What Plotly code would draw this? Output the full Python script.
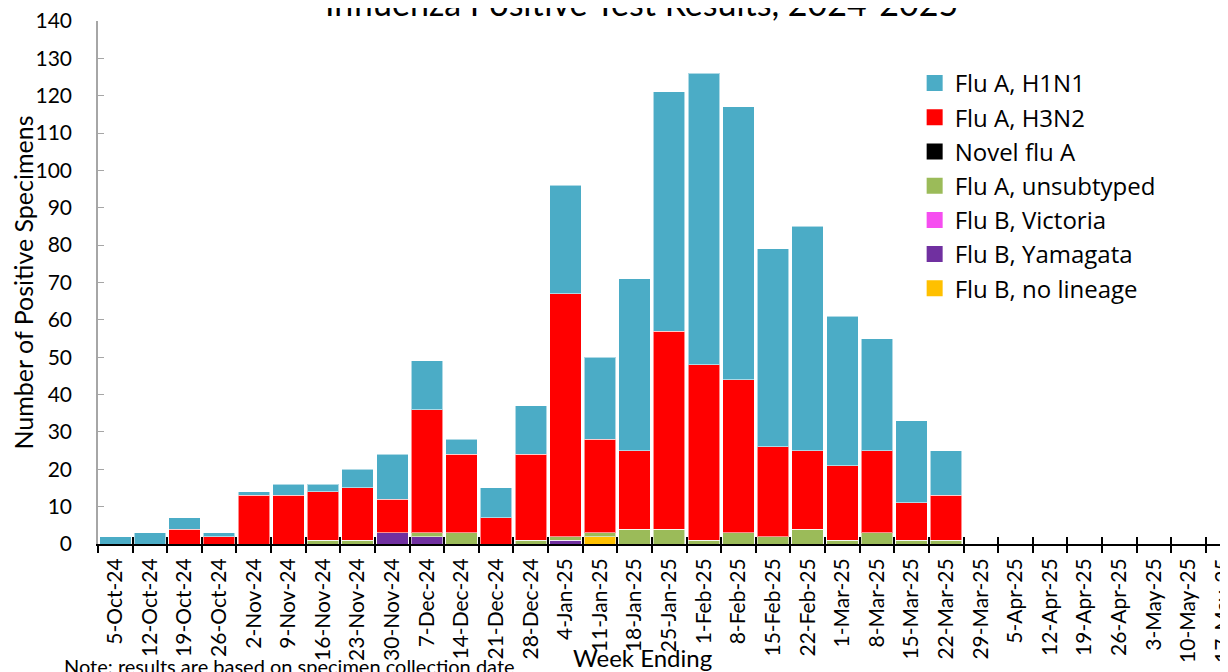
import plotly.graph_objects as go

# week-ending labels (chart is cropped on the right after 17-May-25)
weeks = [
    "5-Oct-24", "12-Oct-24", "19-Oct-24", "26-Oct-24", "2-Nov-24", "9-Nov-24",
    "16-Nov-24", "23-Nov-24", "30-Nov-24", "7-Dec-24", "14-Dec-24", "21-Dec-24",
    "28-Dec-24", "4-Jan-25", "11-Jan-25", "18-Jan-25", "25-Jan-25", "1-Feb-25",
    "8-Feb-25", "15-Feb-25", "22-Feb-25", "1-Mar-25", "8-Mar-25", "15-Mar-25",
    "22-Mar-25", "29-Mar-25", "5-Apr-25", "12-Apr-25", "19-Apr-25", "26-Apr-25",
    "3-May-25", "10-May-25", "17-May-25",
]

# counts per week, stacking order bottom -> top
flu_b_no_lineage = [0, 0, 0, 0, 0, 0, 0, 0, 0, 0, 0, 0, 0, 0, 2, 0, 0, 0, 0, 0, 0, 0, 0, 0, 0,
                    0, 0, 0, 0, 0, 0, 0, 0]
flu_b_yamagata = [0, 0, 0, 0, 0, 0, 0, 0, 3, 2, 0, 0, 0, 1, 0, 0, 0, 0, 0, 0, 0, 0, 0, 0, 0,
                  0, 0, 0, 0, 0, 0, 0, 0]
flu_b_victoria = [0] * 33
flu_a_unsubtyped = [0, 0, 0, 0, 0, 0, 1, 1, 0, 1, 3, 0, 1, 1, 1, 4, 4, 1, 3, 2, 4, 1, 3, 1, 1,
                    0, 0, 0, 0, 0, 0, 0, 0]
novel_flu_a = [0] * 33
flu_a_h3n2 = [0, 0, 4, 2, 13, 13, 13, 14, 9, 33, 21, 7, 23, 65, 25, 21, 53, 47, 41, 24, 21, 20, 22, 10, 12,
              0, 0, 0, 0, 0, 0, 0, 0]
flu_a_h1n1 = [2, 3, 3, 1, 1, 3, 2, 5, 12, 13, 4, 8, 13, 29, 22, 46, 64, 78, 73, 53, 60, 40, 30, 22, 12,
              0, 0, 0, 0, 0, 0, 0, 0]

series = [
    ("Flu B, no lineage", flu_b_no_lineage, "#FFC000"),
    ("Flu B, Yamagata", flu_b_yamagata, "#7030A0"),
    ("Flu B, Victoria", flu_b_victoria, "#F64DF0"),
    ("Flu A, unsubtyped", flu_a_unsubtyped, "#9BBB59"),
    ("Novel flu A", novel_flu_a, "#000000"),
    ("Flu A, H3N2", flu_a_h3n2, "#FF0000"),
    ("Flu A, H1N1", flu_a_h1n1, "#4BACC6"),
]

FONT = "Lato"

fig = go.Figure()

for name, vals, color in series:
    fig.add_trace(go.Bar(
        x=weeks, y=vals, name=name, legendgroup=name, showlegend=False,
        marker=dict(color=color, line=dict(color="rgba(255,255,255,0.55)", width=1)),
    ))

# legend entries (bigger squares than the default bar swatch)
for name, vals, color in reversed(series):
    fig.add_trace(go.Scatter(
        x=[None], y=[None], mode="markers", name=name, legendgroup=name,
        marker=dict(symbol="square", size=16, color=color),
    ))

# second axis just to get tick marks that cross the x axis line
fig.add_trace(go.Scatter(x=weeks, y=[None] * len(weeks), xaxis="x2",
                         showlegend=False, hoverinfo="skip"))

# page body adds an 8px offset, so margins are shifted to compensate
fig.update_layout(
    width=1228, height=672,
    margin=dict(l=90, r=8, t=13, b=136),
    plot_bgcolor="white", paper_bgcolor="white",
    barmode="stack", bargap=0.09,
    font=dict(family=FONT, color="black"),
    xaxis=dict(
        type="category", range=[-0.5, 32.14], automargin=False,
        showline=True, linecolor="black", linewidth=2,
        ticks="outside", tickson="boundaries", ticklen=7, tickwidth=2, tickcolor="black",
        tickangle=-90, tickfont=dict(size=21, family=FONT), ticklabelstandoff=4,
        showgrid=False,
    ),
    xaxis2=dict(
        type="category", overlaying="x", matches="x", side="bottom", automargin=False,
        ticks="inside", tickson="boundaries", ticklen=7, tickwidth=2, tickcolor="black",
        showticklabels=False, showline=False, showgrid=False,
    ),
    yaxis=dict(
        range=[0, 140], dtick=10, automargin=False,
        showline=True, linecolor="#A6A6A6", linewidth=1.5,
        ticks="inside", ticklen=6, tickcolor="#A6A6A6",
        tickfont=dict(size=21, family=FONT),
        ticklabelstandoff=20, ticklabeloverflow="allow",
        showgrid=False, zeroline=False,
        title=dict(text="Number of Positive Specimens", font=dict(size=25, family=FONT),
                   standoff=0),
    ),
    legend=dict(
        x=0.7227, y=0.9235, xanchor="left", yanchor="top",
        font=dict(size=24, family="Open Sans"), tracegroupgap=0,
        bgcolor="rgba(0,0,0,0)",
    ),
    annotations=[
        # title sits partly above the top edge, as in the cropped original
        dict(text="Influenza Positive Test Results, 2024-2025", xref="paper", yref="paper",
             x=0.4814, y=1, xanchor="center", yanchor="bottom", yshift=-4, showarrow=False,
             font=dict(size=34, family=FONT)),
        dict(text="Week Ending", xref="paper", yref="paper", x=0.482, y=0,
             xanchor="center", yanchor="top", yshift=-97, showarrow=False,
             font=dict(size=24, family=FONT)),
        dict(text="Note: results are based on specimen collection date", xref="paper", yref="paper",
             x=-0.032, y=0, xanchor="left", yanchor="top", yshift=-108, showarrow=False,
             font=dict(size=20, family=FONT)),
    ],
)

fig.write_html("out.html")
